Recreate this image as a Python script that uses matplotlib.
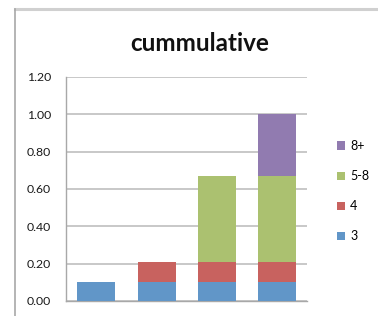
import matplotlib
matplotlib.use('Agg')
import matplotlib.pyplot as plt
import numpy as np
from matplotlib.lines import Line2D

# data
categories = ['1', '2', '3', '4']
series_names = ['3', '4', '5-8', '8+']
vals_3 = [0.10, 0.10, 0.10, 0.10]
vals_4 = [0.00, 0.11, 0.11, 0.11]
vals_5_8 = [0.00, 0.00, 0.46, 0.46]
vals_8p = [0.00, 0.00, 0.00, 0.33]
y_ticks = [0.0, 0.2, 0.4, 0.6, 0.8, 1.0, 1.2]

colors = ['#6196c8', '#c8625f', '#abc170', '#917bb0']

plt.rcParams['font.family'] = ['Lato', 'DejaVu Sans']

fig = plt.figure(figsize=(3.78, 3.16), dpi=100)
ax = fig.add_axes([0.175, 0.0475, 0.638, 0.709])

x = np.arange(len(categories))
bottom = np.zeros(len(categories))
handles = []
for name, vals, col in zip(series_names, [vals_3, vals_4, vals_5_8, vals_8p], colors):
    bars = ax.bar(x, vals, width=0.63, bottom=bottom, color=col, label=name, zorder=3)
    handles.append(bars)
    bottom = bottom + np.array(vals)

ax.set_xlim(-0.5, 3.5)
ax.set_ylim(0, 1.2)
ax.set_xticks([])
ax.set_yticks(y_ticks)
ax.set_yticklabels(['%.2f' % v for v in y_ticks])
ax.tick_params(axis='y', length=0, pad=11, labelsize=8.8, labelcolor='#1a1a1a')
ax.grid(axis='y', color='#c4c4c4', linewidth=1.3, zorder=0)

for side in ['top', 'right']:
    ax.spines[side].set_visible(False)
for side in ['left', 'bottom']:
    ax.spines[side].set_color('#a8a8a8')
    ax.spines[side].set_linewidth(1.0)

fig.text(0.527, 0.862, 'cummulative', ha='center', va='center',
         fontsize=17.5, fontweight='bold', color='#111111')

fig.legend(handles[::-1], series_names[::-1], loc='center left',
           bbox_to_anchor=(0.875, 0.395), frameon=False, fontsize=9,
           handlelength=0.65, handleheight=0.65, handletextpad=0.4,
           labelspacing=1.45, borderpad=0)

# chart frame (only top and left edges visible in the crop)
fig.add_artist(Line2D([0.040, 1.0], [0.970, 0.970], color='#d0d0d0', linewidth=2.2))
fig.add_artist(Line2D([0.040, 0.040], [0.0, 0.970], color='#a8a8a8', linewidth=1.2))

fig.savefig('out.png', dpi=100)
